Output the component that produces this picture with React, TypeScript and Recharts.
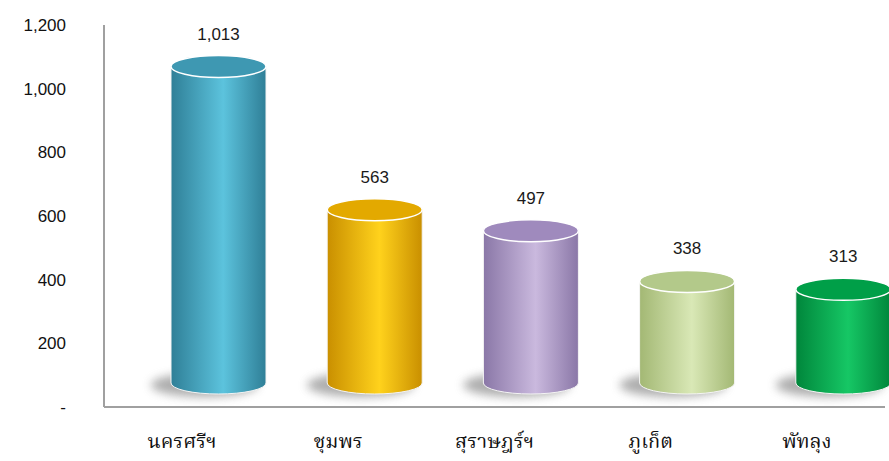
import { Bar, BarChart, LabelList, XAxis, YAxis } from "recharts";

const provinces = ["นครศรีฯ", "ชุมพร", "สุราษฎร์ฯ", "ภูเก็ต", "พัทลุง"];
const counts = [1013, 563, 497, 338, 313];
const yTicks = [0, 200, 400, 600, 800, 1000, 1200];

// [edge, centre, top] per cylinder
const palette = [
  ["#2f7f97", "#5cc3dd", "#3e98b2"],
  ["#c98f00", "#ffd21c", "#e3a900"],
  ["#8a77a7", "#cab9de", "#9f8abd"],
  ["#a3b874", "#d9e8b6", "#b3c98a"],
  ["#00863b", "#16c765", "#009f48"],
];

const data = provinces.map((name, i) => ({ name, value: counts[i] }));

// 3d depth offset of the cylinders relative to the axis frame
const DX = 36;
const DY_TOP = 18;
const DY_BOT = 24;
const RY = 11;

function Cylinder(props: any) {
  const { x, y, width, height, index } = props;
  const [edge, mid, top] = palette[index];
  const cx = x + width / 2 + DX;
  const rx = width / 2;
  const yTop = y - DY_TOP;
  const yBot = y + height - DY_BOT;
  const left = cx - rx;
  const right = cx + rx;
  const id = `cyl${index}`;
  return (
    <g>
      <defs>
        <linearGradient id={id} x1="0" y1="0" x2="1" y2="0">
          <stop offset="0%" stopColor={edge} />
          <stop offset="55%" stopColor={mid} />
          <stop offset="100%" stopColor={edge} />
        </linearGradient>
        <filter id={`blur${index}`} x="-50%" y="-100%" width="200%" height="300%">
          <feGaussianBlur stdDeviation="5" />
        </filter>
      </defs>
      <ellipse cx={cx - 14} cy={yBot + 2} rx={rx + 6} ry={RY + 1} fill="#777" opacity={0.6} filter={`url(#blur${index})`} />
      <path
        d={`M${left},${yTop} L${left},${yBot} A${rx},${RY} 0 0 0 ${right},${yBot} L${right},${yTop} Z`}
        fill={`url(#${id})`}
        stroke="#f4f4f4"
        strokeWidth={1}
      />
      <ellipse cx={cx} cy={yTop} rx={rx} ry={RY} fill={top} stroke="#ffffff" strokeWidth={1.5} />
    </g>
  );
}

function ValueLabel(props: any) {
  const { x, y, width, value } = props;
  return (
    <text
      x={x + width / 2 + DX}
      y={y - DY_TOP - 27}
      textAnchor="middle"
      fontFamily="Liberation Sans, Arial, sans-serif"
      fontSize={17}
      fill="#1a1a1a"
    >
      {value.toLocaleString("en-US")}
    </text>
  );
}

export default function App() {
  return (
    <div style={{ position: "absolute", left: 0, top: 0, width: 889, height: 461, background: "#fff" }}>
      <BarChart width={889} height={461} data={data} margin={{ top: 25, right: 4, bottom: 24, left: 0 }}>
        <XAxis
          dataKey="name"
          height={30}
          axisLine={{ stroke: "#a0a0a0", strokeWidth: 2 }}
          tickLine={false}
          tickMargin={21}
          tick={{ fontSize: 20, fill: "#111", fontFamily: "Noto Serif Thai, Noto Sans Thai, serif" }}
        />
        <YAxis
          width={104}
          domain={[0, 1200]}
          ticks={yTicks}
          interval={0}
          axisLine={{ stroke: "#a0a0a0", strokeWidth: 2 }}
          tickLine={false}
          tickSize={0}
          tickMargin={38}
          tick={{ fontSize: 17, fill: "#111", fontFamily: "Liberation Sans, Arial, sans-serif" }}
          tickFormatter={(v: number) => (v === 0 ? "-" : v.toLocaleString("en-US"))}
        />
        <Bar dataKey="value" barSize={95} shape={<Cylinder />} isAnimationActive={false}>
          <LabelList dataKey="value" content={<ValueLabel />} />
        </Bar>
      </BarChart>
    </div>
  );
}
